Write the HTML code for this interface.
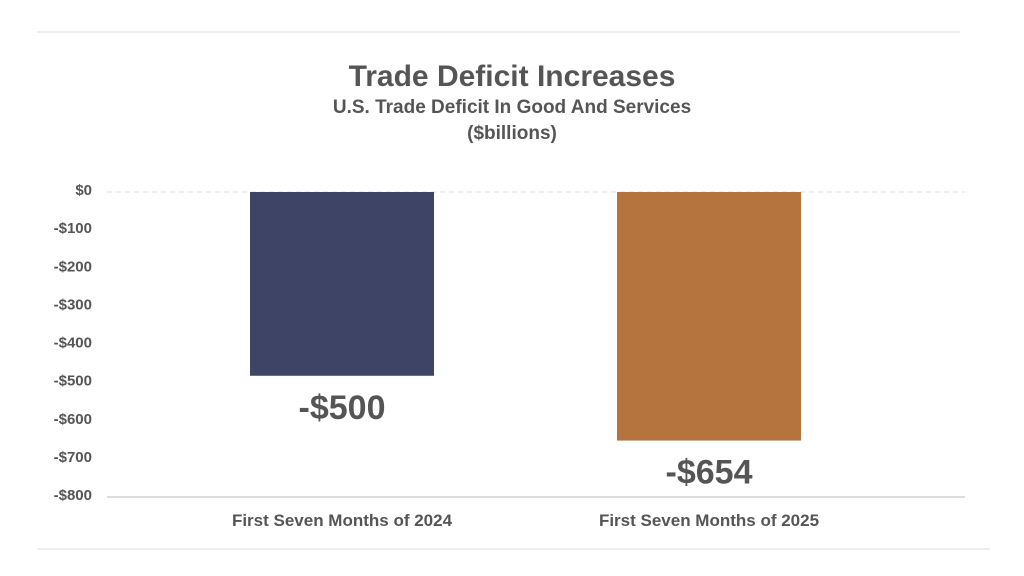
<!DOCTYPE html>
<html><head><meta charset="utf-8"><style>
body{margin:0;background:#fff;}
svg{display:block;font-family:"Liberation Sans",sans-serif;font-weight:bold;}
</style></head><body>
<svg width="1024" height="576" viewBox="0 0 1024 576">
<line x1="37" y1="32" x2="960" y2="32" stroke="#ddd" stroke-width="1"/>
<line x1="37" y1="549" x2="990" y2="549" stroke="#ddd" stroke-width="1"/>
<text x="512" y="86" text-anchor="middle" font-size="30" fill="#555">Trade Deficit Increases</text>
<text x="512" y="113" text-anchor="middle" font-size="19" fill="#555">U.S. Trade Deficit In Good And Services</text>
<text x="512" y="139" text-anchor="middle" font-size="19" fill="#555">($billions)</text>
<g id="axis"></g>
<g id="bars"></g>
</svg>
<script>
const categories=["First Seven Months of 2024","First Seven Months of 2025"];
const values=[-482,-652];
const valueLabels=["-$500","-$654"];
const ticks=[0,-100,-200,-300,-400,-500,-600,-700,-800];
const tickLabels=["$0","-$100","-$200","-$300","-$400","-$500","-$600","-$700","-$800"];
const colors=["#3d4465","#b5733d"];
const NS="http://www.w3.org/2000/svg";
const y0=192,y1=497,vmin=-800;
function y(v){return y0+(v/vmin)*(y1-y0);}
const cx0=342,step=367,bw=184;
function x(i){return cx0+i*step;}
function mk(t,a,p){const e=document.createElementNS(NS,t);for(const k in a)e.setAttribute(k,a[k]);p.appendChild(e);return e;}
const ax=document.getElementById('axis');
ticks.forEach((t,i)=>{
 const tx=mk('text',{x:92,y:y(t)+3,'text-anchor':'end','font-size':15,fill:'#555'},ax);
 
 
 tx.textContent=tickLabels[i];
});
const g0=mk('line',{x1:107,x2:965,y1:y(0),y2:y(0),stroke:'#ddd','stroke-dasharray':'5,4'},ax);


const base=mk('line',{x1:107,x2:965,y1:y(vmin),y2:y(vmin),stroke:'#ddd','stroke-width':2},ax);


const bg=document.getElementById('bars');
values.forEach((v,i)=>{
 const r=mk('rect',{x:x(i)-bw/2,y:y(0),width:bw,height:y(v)-y(0),fill:colors[i]},bg);
 
 
 const l=mk('text',{x:x(i),y:y(v)+43,'text-anchor':'middle','font-size':34,fill:'#555'},bg);
 
 
 l.textContent=valueLabels[i];
 const c=mk('text',{x:x(i),y:526,'text-anchor':'middle','font-size':17,fill:'#555'},bg);
 
 
 c.textContent=categories[i];
});
</script>
</body></html>
